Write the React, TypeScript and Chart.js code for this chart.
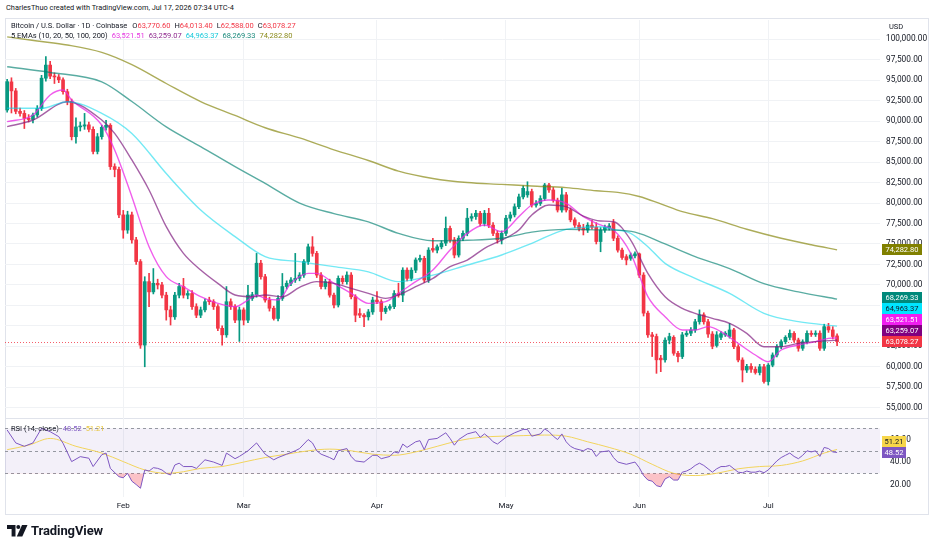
import React, { useEffect, useRef } from "react";
import { Chart, registerables } from "chart.js";

Chart.register(...registerables);

const FONT = "Roboto, 'Noto Sans', Arial, sans-serif";
const INK = "#131722";
const UP = "#089981";
const DOWN = "#F23645";

// Daily BTC/USD candles; index 0 = 5 Jan, index 193 = 17 Jul
const OPEN = [
  91364, 94800, 93700, 91200, 90950, 90350, 90200, 90750, 91550, 95250,
  96850, 95500, 95400, 95050, 93600, 92400, 88100, 89300, 89400, 89550,
  89000, 86300, 88100, 89250, 89500, 84450, 84100, 78550, 76700, 78550,
  75500, 72850, 62650, 70400, 69150, 70200, 70000, 68750, 66950, 66100,
  68750, 69800, 68750, 68950, 67350, 66300, 66950, 68150, 67950, 67350,
  64700, 63900, 67950, 67350, 65700, 66950, 65700, 68350, 68800, 72650,
  71000, 68150, 67150, 65900, 68350, 69800, 70200, 70600, 70800, 71200,
  72850, 74650, 73850, 71200, 69800, 70400, 68750, 67550, 70800, 70400,
  71200, 68550, 66500, 66300, 66100, 66700, 68150, 67950, 66750, 67150,
  67350, 68950, 68750, 71800, 70800, 71800, 73050, 73250, 70600, 74450,
  74250, 74650, 75100, 76900, 75500, 73650, 75700, 76300, 78150, 78350,
  78750, 77500, 78750, 77300, 76300, 75500, 76300, 78150, 78550, 79550,
  80750, 81000, 81400, 79750, 79950, 80550, 82200, 81600, 80350, 79150,
  81000, 79150, 77950, 77300, 76950, 76700, 77300, 77050, 75300, 76700,
  76950, 77600, 75700, 74250, 73450, 73250, 73550, 73800, 71200, 66550,
  63900, 63700, 61050, 60850, 63250, 63600, 61650, 61250, 63900, 64100,
  64500, 65500, 66350, 65500, 64000, 62600, 63600, 63900, 63700, 64500,
  62450, 60830, 59600, 60050, 59700, 59300, 60000, 58200, 60200, 61440,
  62450, 63060, 63600, 64090, 63270, 62260, 63060, 64090, 63950, 64100,
  62260, 64900, 64500, 63770.6,
];
const HIGH = [
  95100, 95300, 94000, 91600, 91300, 90800, 91000, 91900, 95600, 97900,
  97300, 95900, 95700, 95300, 93900, 92700, 90400, 89900, 90950, 89900,
  89300, 88500, 89500, 90100, 89700, 84800, 84400, 79100, 79000, 78900,
  75800, 73100, 71000, 71400, 72000, 70700, 70300, 69100, 67400, 69100,
  70200, 70800, 69300, 69300, 67700, 67300, 68300, 68500, 68200, 67600,
  65000, 69800, 68300, 67600, 67300, 67200, 69950, 69100, 73850, 73000,
  71300, 68500, 67400, 68700, 71400, 70500, 70900, 73850, 71500, 73100,
  75000, 75900, 74100, 71500, 70700, 70700, 69000, 71100, 71100, 71600,
  71500, 68800, 67100, 66500, 67000, 68500, 69200, 68200, 67400, 67600,
  69300, 70200, 72100, 72100, 72100, 73300, 73650, 73500, 74550, 75700,
  74900, 75400, 78300, 77200, 75800, 76000, 76600, 79350, 78700, 79100,
  79000, 79100, 79350, 77600, 76600, 76600, 78500, 78900, 79900, 81100,
  82100, 82600, 81700, 80300, 80900, 82400, 82400, 81900, 80600, 81800,
  81300, 79400, 78200, 77600, 77400, 77600, 77900, 77600, 77000, 77300,
  77500, 78000, 76000, 74500, 73700, 73900, 74050, 73900, 71500, 66800,
  64200, 64000, 61400, 63550, 64100, 63800, 61900, 64200, 64400, 64800,
  65800, 66950, 66600, 65800, 64300, 64300, 64300, 64300, 65300, 64700,
  62700, 61100, 60300, 60400, 60000, 60300, 60300, 60400, 61700, 62700,
  63300, 63800, 64500, 64300, 63500, 63300, 64400, 64400, 64400, 64400,
  65200, 65310, 64900, 64013.4,
];
const LOW = [
  91100, 91000, 90900, 90600, 89100, 89900, 89800, 90500, 91300, 94900,
  95200, 94600, 94700, 93300, 92000, 87700, 87300, 88800, 89000, 88700,
  86000, 86000, 87800, 88900, 84100, 83200, 78200, 75700, 76300, 75100,
  72500, 62250, 60000, 67350, 68900, 69500, 68400, 65700, 65100, 65800,
  68400, 68400, 68300, 67000, 66000, 66000, 66700, 67600, 67000, 64400,
  62650, 63600, 67000, 65400, 63100, 65100, 65400, 68100, 68500, 70700,
  67900, 66800, 65700, 65600, 68100, 69500, 69900, 70300, 70500, 70900,
  72500, 73500, 70900, 69500, 69500, 68500, 67200, 67300, 70100, 70100,
  68300, 65500, 66000, 64900, 65700, 66400, 67700, 65700, 66500, 66900,
  67100, 68500, 67950, 70500, 70500, 71500, 72800, 70300, 70300, 74000,
  73900, 74400, 74800, 75200, 73300, 73400, 75400, 76000, 77800, 78000,
  77200, 77200, 77000, 76000, 75100, 75000, 76000, 77800, 78300, 79300,
  80500, 80700, 79500, 79500, 79700, 80300, 81300, 80100, 78900, 78900,
  78900, 77700, 77000, 76600, 76100, 76400, 76800, 75000, 74050, 76400,
  76700, 75400, 74000, 73100, 72450, 73000, 73300, 70900, 66200, 63600,
  61250, 59200, 59400, 60550, 62800, 61400, 60600, 61000, 63700, 63800,
  64200, 65200, 65200, 63600, 62200, 62400, 63300, 63700, 63500, 62200,
  60600, 58150, 59300, 59300, 59100, 59000, 58000, 57770, 60000, 61200,
  62200, 62800, 63300, 63000, 61900, 62000, 62800, 63700, 63700, 62000,
  62000, 64200, 63400, 62588.0,
];
const CLOSE = [
  94825, 93700, 91200, 90950, 90350, 90200, 90750, 91550, 95250, 96850,
  95500, 95400, 95050, 93600, 92400, 88100, 89300, 89400, 89550, 89000,
  86300, 88100, 89250, 89500, 84450, 84100, 78550, 76700, 78550, 75500,
  72850, 62650, 70400, 69150, 70200, 70000, 68750, 66950, 66100, 68750,
  69800, 68750, 68950, 67350, 66300, 66950, 67950, 67950, 67350, 64700,
  63900, 67950, 67350, 65700, 66950, 65700, 68750, 68800, 72650, 71000,
  68150, 67150, 65900, 68350, 69800, 70200, 70600, 70800, 71200, 72850,
  74650, 73850, 71200, 69800, 70400, 68750, 67550, 70800, 70400, 71200,
  68550, 66300, 66300, 66100, 66700, 68150, 67950, 66750, 67150, 67350,
  68950, 68750, 71800, 70800, 71800, 73050, 73250, 70600, 74250, 74250,
  74650, 75100, 76900, 75500, 73650, 75700, 76300, 78150, 78350, 78750,
  77500, 78750, 77300, 76300, 75500, 76300, 78150, 78550, 79550, 80750,
  81800, 81400, 79750, 79950, 80550, 82200, 81600, 80350, 79150, 81000,
  79150, 77950, 77300, 76900, 76700, 77300, 77050, 75300, 76700, 77050,
  77200, 75700, 74250, 73350, 73050, 73650, 73800, 71200, 66550, 63900,
  63700, 60850, 60850, 63250, 63700, 61650, 61250, 63900, 64100, 64500,
  65500, 66350, 65500, 64000, 62500, 63900, 64050, 64100, 64500, 62450,
  60830, 59600, 60050, 59700, 59300, 60000, 58200, 60200, 61440, 62450,
  63060, 63600, 64090, 63270, 62260, 63060, 64090, 63950, 64100, 62260,
  64900, 64500, 63700, 63078.27,
];

// Moving averages read as [day index, value]
const EMA10: [number, number][] = [
  [0, 89940], [6, 90750], [10, 93200], [13, 93800], [15, 92600], [22, 89530],
  [25, 86480], [29, 80780], [33, 74670], [37, 71010], [41, 69780], [45, 68560],
  [49, 67750], [53, 67340], [56, 68150], [58, 68770], [60, 68360], [63, 68150],
  [66, 70190], [70, 71410], [72, 71410], [76, 70190], [80, 68970], [84, 67750],
  [88, 67950], [91, 68970], [95, 70400], [99, 71820], [103, 74260], [107, 76300],
  [111, 77320], [115, 76500], [119, 78340], [122, 79760], [126, 80370], [130, 79960],
  [134, 78340], [138, 77320], [141, 76710], [145, 73860], [149, 68560], [153, 66120],
  [157, 64490], [160, 64490], [163, 64900], [166, 64290], [170, 62860], [174, 61440],
  [177, 60620], [180, 62050], [184, 62660], [188, 63070], [191, 63470], [193, 63521.51],
];
const EMA20: [number, number][] = [
  [0, 89330], [6, 90140], [14, 92380], [22, 90140], [25, 88510], [29, 85260],
  [33, 81590], [37, 77110], [41, 73850], [45, 71820], [49, 70190], [53, 68770],
  [57, 68560], [60, 68770], [64, 68560], [68, 69700], [72, 70400], [76, 70190],
  [80, 69580], [84, 68970], [88, 68360], [91, 68770], [95, 69780], [99, 70800],
  [103, 72230], [107, 73040], [111, 74470], [115, 75480], [119, 76710], [122, 78540],
  [126, 79760], [130, 79560], [134, 78400], [138, 77800], [141, 77720], [145, 75480],
  [149, 71410], [153, 68560], [157, 67140], [160, 66530], [164, 65920], [168, 65300],
  [172, 64080], [176, 62450], [180, 62450], [184, 62860], [188, 63070], [193, 63259.07],
];
const EMA50: [number, number][] = [
  [0, 91570], [8, 91570], [14, 92380], [22, 90950], [29, 88500], [37, 83600],
  [45, 79150], [53, 75900], [60, 73450], [68, 72840], [76, 72230], [84, 71600],
  [91, 70400], [99, 71200], [107, 72430], [115, 73650], [122, 75080], [130, 76790],
  [138, 77110], [141, 76790], [145, 76300], [149, 74670], [153, 72630], [160, 70800],
  [168, 68970], [176, 66530], [184, 65510], [193, 64963.37],
];
const EMA100: [number, number][] = [
  [0, 96650], [10, 95950], [22, 94800], [29, 92400], [37, 89300], [45, 86900],
  [53, 84450], [60, 82400], [68, 80000], [76, 78700], [84, 77700], [91, 76300],
  [99, 75400], [107, 75450], [115, 75700], [122, 76450], [130, 76780], [138, 76720],
  [141, 76700], [146, 76450], [153, 75000], [160, 73450], [168, 72000], [176, 70150],
  [184, 69150], [193, 68269.33],
];
const EMA200: [number, number][] = [
  [0, 100300], [7, 99800], [14, 99300], [22, 98400], [29, 96900], [37, 94600],
  [45, 92400], [53, 90700], [60, 89200], [68, 87950], [76, 86500], [84, 85200],
  [91, 83900], [99, 83000], [107, 82500], [115, 82280], [122, 82080], [130, 81880],
  [137, 81500], [142, 81300], [147, 80800], [152, 79900], [157, 78950], [164, 78100],
  [172, 76800], [180, 75700], [187, 74900], [193, 74282.8],
];

// RSI(14) and its moving average, [day index, value]
const RSI: [number, number][] = [
  [0, 68.5], [2, 57], [4, 54], [6, 57], [8, 70], [10, 67], [12, 62.6], [13, 56.7],
  [15, 40.4], [17, 44.8], [19, 43.4], [20, 36], [22, 46.5], [23, 48], [24, 34.4],
  [26, 27], [27, 26], [28, 30], [29, 23], [30, 20], [31, 16.7], [32, 33], [33, 32],
  [34, 35], [35, 34.4], [36, 33], [37, 30], [38, 28.5], [39, 37.4], [40, 39], [41, 36],
  [43, 36], [44, 34.4], [46, 42], [48, 40], [50, 37], [51, 48], [53, 43], [54, 45],
  [56, 50], [58, 57], [60, 47], [62, 42], [63, 44], [65, 47], [67, 50], [68, 52],
  [70, 60], [71, 57], [72, 50], [73, 47], [75, 44], [76, 42], [77, 50], [79, 52],
  [80, 45], [81, 41], [83, 40], [85, 46], [86, 46], [87, 43], [89, 45], [90, 49],
  [91, 48], [92, 56], [93, 53], [95, 58], [96, 59], [97, 51], [98, 60], [100, 61],
  [102, 66], [103, 61], [104, 55], [105, 60], [107, 65], [109, 67], [110, 62],
  [111, 65], [112, 62], [113, 58], [114, 56], [116, 62], [118, 66], [120, 69],
  [121, 69], [122, 63], [124, 65], [125, 69.5], [126, 67], [127, 63], [128, 60],
  [129, 65], [130, 58], [131, 54], [132, 52], [134, 50], [135, 52], [136, 51],
  [137, 45], [138, 49], [140, 50], [141, 44], [142, 40], [144, 38], [146, 40],
  [147, 35], [148, 28], [149, 24], [150, 23], [151, 19], [152, 18], [153, 25],
  [154, 27], [155, 24], [156, 24], [157, 31], [158, 32], [159, 34], [160, 37],
  [161, 39], [162, 37], [163, 34], [164, 31], [165, 34], [166, 36], [167, 36],
  [168, 37], [169, 34], [170, 31], [171, 30.5], [172, 32], [173, 31], [174, 31],
  [175, 32], [176, 30.5], [177, 33], [178, 37], [179, 41], [180, 44], [181, 46],
  [182, 48], [183, 45], [184, 43], [185, 46], [186, 50], [187, 49], [188, 50],
  [189, 45], [190, 53], [191, 52], [192, 49], [193, 48.52],
];
const RSI_MA: [number, number][] = [
  [0, 51], [5, 55], [10, 61], [16, 54], [22, 48], [27, 40.4], [32, 33], [37, 30],
  [41, 31.4], [45, 34.4], [50, 36], [55, 40], [60, 44], [65, 47], [70, 50],
  [75, 51.5], [80, 50], [85, 47], [90, 46], [95, 49], [100, 54], [105, 59],
  [110, 62], [115, 63], [120, 63.5], [125, 64], [130, 63], [135, 58], [140, 53],
  [145, 47], [150, 38], [155, 30], [160, 28], [165, 30], [170, 34], [175, 36],
  [180, 37], [185, 41], [190, 48], [193, 51.21],
];

const MONTH_START = [27, 55, 86, 116, 147, 177];
const MONTH_NAME = ["Feb", "Mar", "Apr", "May", "Jun", "Jul"];
const PRICE_TICKS = [
  55000, 57500, 60000, 62500, 65000, 67500, 70000, 72500, 75000, 77500,
  80000, 82500, 85000, 87500, 90000, 92500, 95000, 97500, 100000,
];
const RSI_TICKS = [20, 40, 60];
const RSI_LEVELS = [70, 50, 30];

// visible day range and value ranges of the two panes
const X_MIN = -0.5;
const X_MAX = 202.98;
const PRICE_MIN = 53744;
const PRICE_MAX = 102357;
const RSI_MIN = 8.93;
const RSI_MAX = 79.16;

const EMA_SERIES = [
  { pts: EMA200, line: "rgba(128,128,0,0.65)", tag: "#808000", tagText: "#ffffff", legend: "#8C8C1E" },
  { pts: EMA100, line: "rgba(0,128,112,0.65)", tag: "#00897B", tagText: "#ffffff", legend: "#1B8A7C" },
  { pts: EMA50, line: "rgba(0,215,235,0.55)", tag: "#00E5FF", tagText: "#131722", legend: "#16C9DA" },
  { pts: EMA20, line: "rgba(128,30,128,0.7)", tag: "#800080", tagText: "#ffffff", legend: "#8E2A8E" },
  { pts: EMA10, line: "rgba(235,40,230,0.75)", tag: "#F01EF0", tagText: "#ffffff", legend: "#E535E0" },
];
const RSI_COLOR = "#7E57C2";
const RSI_MA_COLOR = "#F2D45C";

const fmt = (v: number) =>
  v.toLocaleString("en-US", { minimumFractionDigits: 2, maximumFractionDigits: 2 });
const last = <T,>(a: T[]) => a[a.length - 1];
const toXY = (pts: [number, number][]) => pts.map(([x, y]) => ({ x, y }));

function drawTags(
  ctx: CanvasRenderingContext2D,
  x: number,
  w: number,
  h: number,
  tags: { y: number; bg: string; fg: string; text: string }[]
) {
  const sorted = [...tags].sort((a, b) => b.y - a.y);
  let prev = Infinity;
  ctx.save();
  ctx.font = `7.5px ${FONT}`;
  ctx.textAlign = "center";
  ctx.textBaseline = "middle";
  for (const t of sorted) {
    const y = Math.min(t.y, prev - h);
    prev = y;
    ctx.fillStyle = t.bg;
    ctx.fillRect(x, Math.round(y - h / 2), w, h);
    ctx.fillStyle = t.fg;
    ctx.fillText(t.text, x + w / 2, Math.round(y - h / 2) + h / 2 + 0.5);
  }
  ctx.restore();
}

// keep the plot area edge-to-edge: no extra room for the outermost tick labels
const noEdgePadding = (s: any) => {
  s.paddingTop = 0;
  s.paddingBottom = 0;
};

export default function App() {
  const priceRef = useRef<HTMLCanvasElement>(null);
  const rsiRef = useRef<HTMLCanvasElement>(null);

  useEffect(() => {
    if (!priceRef.current || !rsiRef.current) return;
    const idx = CLOSE.map((_, i) => i);
    const colors = idx.map((i) => (CLOSE[i] >= OPEN[i] ? UP : DOWN));
    const lastClose = last(CLOSE);
    const lastColor = last(colors);

    const monthTicks = (scale: any) => {
      scale.ticks = MONTH_START.map((v) => ({ value: v }));
    };

    const priceOverlay = {
      id: "priceOverlay",
      beforeDatasetsDraw(chart: any) {
        const { ctx, chartArea: a, scales } = chart;
        const y = Math.round(scales.y.getPixelForValue(lastClose)) + 0.5;
        ctx.save();
        ctx.strokeStyle = lastColor;
        ctx.globalAlpha = 0.8;
        ctx.lineWidth = 1;
        ctx.setLineDash([1, 2]);
        ctx.beginPath();
        ctx.moveTo(a.left, y);
        ctx.lineTo(a.right, y);
        ctx.stroke();
        ctx.restore();
      },
      afterDraw(chart: any) {
        const { ctx, chartArea: a, scales } = chart;
        const tags = EMA_SERIES.map((s) => {
          const v = last(s.pts)[1];
          return { y: scales.y.getPixelForValue(v), bg: s.tag, fg: s.tagText, text: fmt(v) };
        });
        tags.push({ y: scales.y.getPixelForValue(lastClose), bg: lastColor, fg: "#ffffff", text: fmt(lastClose) });
        drawTags(ctx, a.right + 2, 40, 11, tags);
      },
    };

    const price = new Chart(priceRef.current, {
      type: "bar",
      data: {
        datasets: [
          ...EMA_SERIES.map((s) => ({
            type: "line" as const,
            data: toXY(s.pts),
            borderColor: s.line,
            borderWidth: 1.4,
            pointRadius: 0,
            cubicInterpolationMode: "monotone" as const,
            order: 0,
          })),
          {
            type: "bar" as const,
            data: idx.map((i) => ({ x: i, y: [OPEN[i], CLOSE[i]] })),
            backgroundColor: colors,
            barThickness: 3,
            minBarLength: 1,
            grouped: false,
            order: 1,
          },
          {
            type: "bar" as const,
            data: idx.map((i) => ({ x: i, y: [LOW[i], HIGH[i]] })),
            backgroundColor: colors,
            barThickness: 1,
            grouped: false,
            order: 2,
          },
        ] as any,
      },
      options: {
        responsive: false,
        animation: false,
        devicePixelRatio: 1,
        events: [],
        layout: { padding: { left: 5, top: 2, right: 0, bottom: 0 } },
        plugins: { legend: { display: false }, tooltip: { enabled: false } },
        scales: {
          x: {
            type: "linear",
            min: X_MIN,
            max: X_MAX,
            offset: false,
            afterBuildTicks: monthTicks,
            afterFit: (s: any) => { s.height = 0; },
            ticks: { display: false },
            grid: { color: "#F0F2F5", drawTicks: false, offset: false },
            border: { display: false },
          },
          y: {
            position: "right",
            min: PRICE_MIN,
            max: PRICE_MAX,
            afterBuildTicks: (s: any) => { s.ticks = PRICE_TICKS.map((v) => ({ value: v })); },
            afterFit: (s: any) => { s.width = 55; noEdgePadding(s); },
            ticks: {
              padding: 6,
              color: INK,
              font: { family: FONT, size: 8.3 },
              callback: (v: any) => fmt(Number(v)),
            },
            grid: { color: "#F0F2F5", drawTicks: false },
            border: { display: false },
          },
        },
      },
      plugins: [priceOverlay],
    });

    const rsiOverlay = {
      id: "rsiOverlay",
      beforeDatasetsDraw(chart: any) {
        const { ctx, chartArea: a, scales } = chart;
        const yTop = scales.y.getPixelForValue(RSI_LEVELS[0]);
        const yBot = scales.y.getPixelForValue(RSI_LEVELS[2]);
        ctx.save();
        ctx.fillStyle = "rgba(126,87,194,0.09)";
        ctx.fillRect(a.left, yTop, a.right - a.left, yBot - yTop);
        ctx.strokeStyle = "#9598A1";
        ctx.lineWidth = 1;
        ctx.setLineDash([3, 3]);
        for (const lv of RSI_LEVELS) {
          const y = Math.round(scales.y.getPixelForValue(lv)) + 0.5;
          ctx.beginPath();
          ctx.moveTo(a.left, y);
          ctx.lineTo(a.right, y);
          ctx.stroke();
        }
        ctx.restore();
      },
      afterDraw(chart: any) {
        const { ctx, chartArea: a, scales } = chart;
        drawTags(ctx, a.right + 2, 24, 11, [
          { y: scales.y.getPixelForValue(last(RSI_MA)[1]), bg: "#F7D64A", fg: INK, text: last(RSI_MA)[1].toFixed(2) },
          { y: scales.y.getPixelForValue(last(RSI)[1]), bg: RSI_COLOR, fg: "#ffffff", text: last(RSI)[1].toFixed(2) },
        ]);
      },
    };

    const rsi = new Chart(rsiRef.current, {
      type: "line",
      data: {
        datasets: [
          {
            data: toXY(RSI),
            borderColor: RSI_COLOR,
            borderWidth: 1,
            pointRadius: 0,
            fill: { target: { value: 30 }, above: "rgba(0,0,0,0)", below: "rgba(242,54,69,0.3)" },
            order: 0,
          },
          {
            data: toXY(RSI_MA),
            borderColor: RSI_MA_COLOR,
            borderWidth: 1,
            pointRadius: 0,
            cubicInterpolationMode: "monotone",
            order: 1,
          },
        ] as any,
      },
      options: {
        responsive: false,
        animation: false,
        devicePixelRatio: 1,
        events: [],
        layout: { padding: { left: 5, top: 0, right: 0, bottom: 0 } },
        plugins: { legend: { display: false }, tooltip: { enabled: false } },
        scales: {
          x: {
            type: "linear",
            min: X_MIN,
            max: X_MAX,
            afterBuildTicks: monthTicks,
            afterFit: (s: any) => { s.height = 18; },
            ticks: {
              padding: 4,
              color: INK,
              maxRotation: 0,
              autoSkip: false,
              font: { family: FONT, size: 8 },
              callback: (_v: any, i: number) => MONTH_NAME[i],
            },
            grid: { color: "#F0F2F5", drawTicks: false },
            border: { display: false },
          },
          y: {
            position: "right",
            min: RSI_MIN,
            max: RSI_MAX,
            afterBuildTicks: (s: any) => { s.ticks = RSI_TICKS.map((v) => ({ value: v })); },
            afterFit: (s: any) => { s.width = 55; noEdgePadding(s); },
            ticks: {
              padding: 2,
              color: INK,
              font: { family: FONT, size: 8.3 },
              callback: (v: any) => Number(v).toFixed(2),
            },
            grid: { display: false },
            border: { display: false },
          },
        },
      },
      plugins: [rsiOverlay],
    });

    return () => {
      price.destroy();
      rsi.destroy();
    };
  }, []);

  const o = OPEN[OPEN.length - 1];
  const h = HIGH[HIGH.length - 1];
  const l = LOW[LOW.length - 1];
  const c = CLOSE[CLOSE.length - 1];
  const ohlcColor = c >= o ? UP : DOWN;
  const small: React.CSSProperties = { fontSize: 7.5, lineHeight: "10px", whiteSpace: "nowrap" };

  return (
    <div
      style={{
        position: "absolute",
        left: 0,
        top: 0,
        width: 935,
        height: 550,
        background: "#ffffff",
        overflow: "hidden",
        fontFamily: FONT,
        color: INK,
      }}
    >
      <div style={{ position: "absolute", left: 6, top: 3, ...small, fontSize: 7.4 }}>
        CharlesThuo created with TradingView.com, Jul 17, 2026 07:34 UTC-4
      </div>
      <div
        style={{
          position: "absolute",
          left: 5,
          top: 18,
          width: 924,
          height: 497,
          border: "1px solid #E0E3EB",
          boxSizing: "border-box",
        }}
      />
      <canvas
        ref={priceRef}
        width={935}
        height={400}
        style={{ position: "absolute", left: 0, top: 18, width: 935, height: 400 }}
      />
      <div style={{ position: "absolute", left: 5, top: 418, width: 924, height: 1, background: "#E0E3EB" }} />
      <canvas
        ref={rsiRef}
        width={935}
        height={97}
        style={{ position: "absolute", left: 0, top: 418, width: 935, height: 97 }}
      />
      <div style={{ position: "absolute", left: 11, top: 21, ...small }}>
        <span>Bitcoin / U.S. Dollar · 1D · Coinbase</span>
        <span style={{ marginLeft: 5 }}>O</span>
        <span style={{ color: ohlcColor }}>{fmt(o)}</span>
        <span style={{ marginLeft: 4 }}>H</span>
        <span style={{ color: ohlcColor }}>{fmt(h)}</span>
        <span style={{ marginLeft: 4 }}>L</span>
        <span style={{ color: ohlcColor }}>{fmt(l)}</span>
        <span style={{ marginLeft: 4 }}>C</span>
        <span style={{ color: ohlcColor }}>{fmt(c)}</span>
      </div>
      <div style={{ position: "absolute", left: 11, top: 30.5, ...small }}>
        <span>5 EMAs (10, 20, 50, 100, 200)</span>
        {[...EMA_SERIES].reverse().map((s, i) => (
          <span key={i} style={{ marginLeft: 4, color: s.legend }}>
            {fmt(last(s.pts)[1])}
          </span>
        ))}
      </div>
      <div style={{ position: "absolute", left: 889, top: 22, ...small }}>USD</div>
      <div style={{ position: "absolute", left: 11, top: 423.5, ...small }}>
        <span>RSI (14, close)</span>
        <span style={{ marginLeft: 4, color: RSI_COLOR }}>{last(RSI)[1].toFixed(2)}</span>
        <span style={{ marginLeft: 4, color: "#E8C53A" }}>{last(RSI_MA)[1].toFixed(2)}</span>
      </div>
      <div style={{ position: "absolute", left: 7, top: 524, display: "flex", alignItems: "center" }}>
        <svg width="21" height="12" viewBox="0 0 21 12">
          <path d="M0 0 H8.5 V11.5 H4.6 V3.9 H0 Z" fill={INK} />
          <circle cx="11.3" cy="2" r="2" fill={INK} />
          <path d="M15 0 H20.5 L15.3 11.5 H9.8 Z" fill={INK} />
        </svg>
        <span style={{ marginLeft: 3, fontSize: 13, fontWeight: 700, lineHeight: "14px", letterSpacing: -0.1 }}>
          TradingView
        </span>
      </div>
    </div>
  );
}
